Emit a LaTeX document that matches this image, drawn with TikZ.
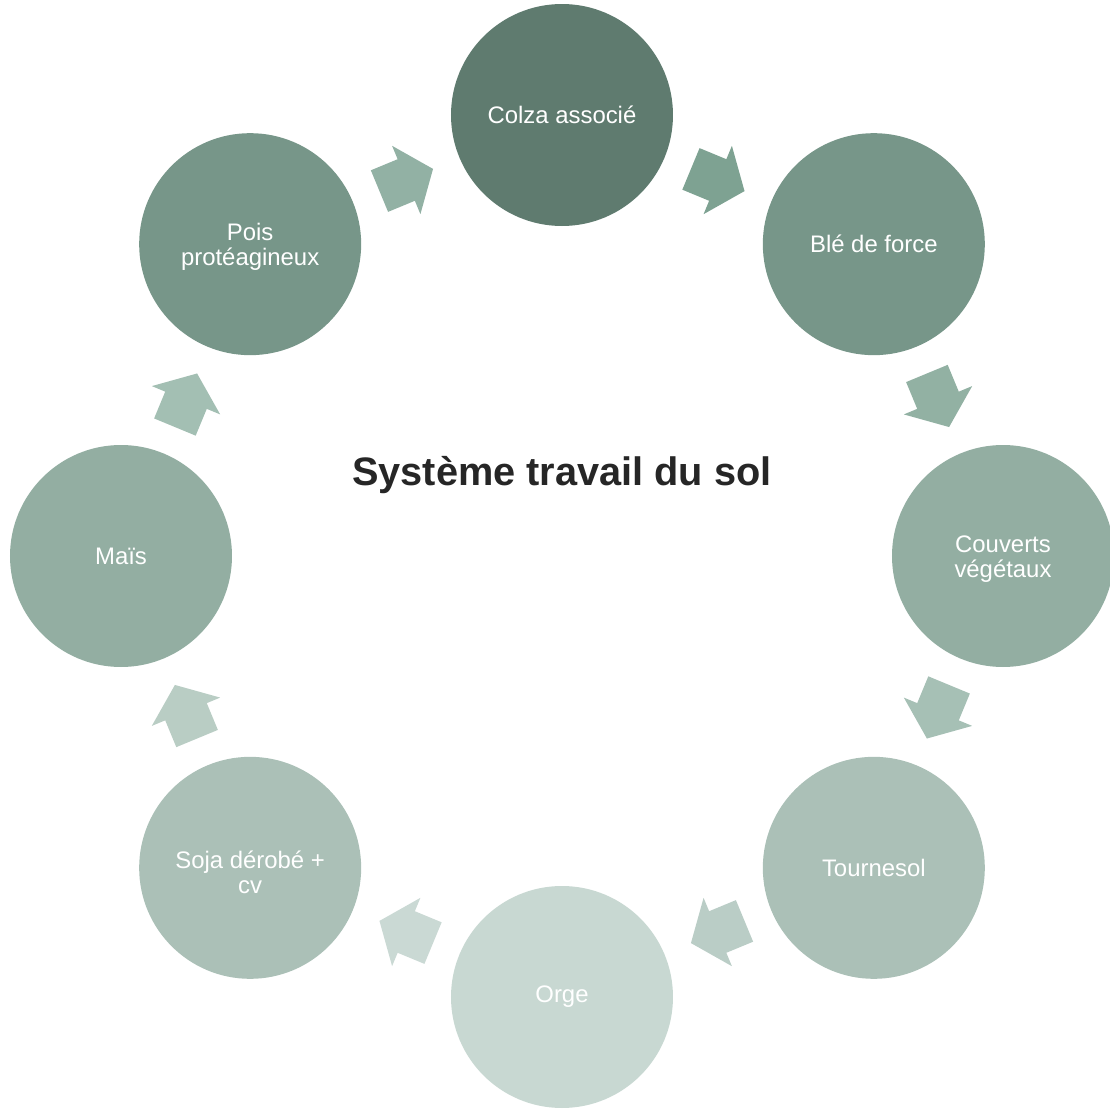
\documentclass[tikz,border=0pt]{standalone}
\usepackage{fontspec}
\setmainfont{Liberation Sans}
\usetikzlibrary{calc}

\definecolor{colzaFill}{HTML}{5F7B6F}
\definecolor{bleFill}{HTML}{779689}
\definecolor{couvFill}{HTML}{93AEA2}
\definecolor{tourFill}{HTML}{ABC0B7}
\definecolor{orgeFill}{HTML}{C8D8D2}
\definecolor{titleText}{HTML}{262626}

\tikzstyle{cropbox} = [circle, minimum size=2.22cm, inner sep=0pt,
    text=white, align=center, font=\fontsize{6.8}{7.1}\selectfont]

\begin{document}
\begin{tikzpicture}
\useasboundingbox (0,0) rectangle (11.1,11.1);
\coordinate (centre) at (5.62,5.54);
%------------ Kreis der Kulturen ---------------------
\node[cropbox, fill=colzaFill] (colza) at ($(centre)+(90:4.41)$) {Colza associé};
\node[cropbox, fill=bleFill] (ble) at ($(centre)+(45:4.41)$) {Blé de force};
\node[cropbox, fill=couvFill] (couverts) at ($(centre)+(0:4.41)$) {\strut\\[-1.6ex]Couverts\\végétaux};
\node[cropbox, fill=tourFill] (tournesol) at ($(centre)+(-45:4.41)$) {Tournesol};
\node[cropbox, fill=orgeFill] (orge) at ($(centre)+(-90:4.41)$) {Orge};
\node[cropbox, fill=tourFill] (soja) at ($(centre)+(-135:4.41)$) {\strut\\[-1.6ex]Soja dérobé +\\cv};
\node[cropbox, fill=couvFill] (mais) at ($(centre)+(180:4.41)$) {Maïs};
\node[cropbox, fill=bleFill] (pois) at ($(centre)+(135:4.41)$) {\strut\\[-1.6ex]Pois\\protéagineux};
%------------ Pfeile ---------------------
\foreach \ang/\col in {67.5/7EA292, 22.5/92B1A3, -22.5/A6C0B5, -67.5/BACDC6,
    -112.5/CAD9D4, -157.5/B9CDC4, 157.5/A3BFB3, 112.5/92B1A4} {
  \definecolor{arrowFill}{HTML}{\col}
  \fill[arrowFill, shift={(centre)}, shift={(\ang:4.07)}, rotate=\ang-90]
    (-0.29,-0.225) -- (0,-0.225) -- (0,-0.37) -- (0.29,0) -- (0,0.37)
    -- (0,0.225) -- (-0.29,0.225) -- cycle;
}
%------------ Titel ---------------------
\node[text=titleText, font=\fontsize{11.3}{13}\selectfont\bfseries] (titel)
    at ($(centre)+(0,0.81)$) {Système travail du sol};
\end{tikzpicture}
\end{document}
